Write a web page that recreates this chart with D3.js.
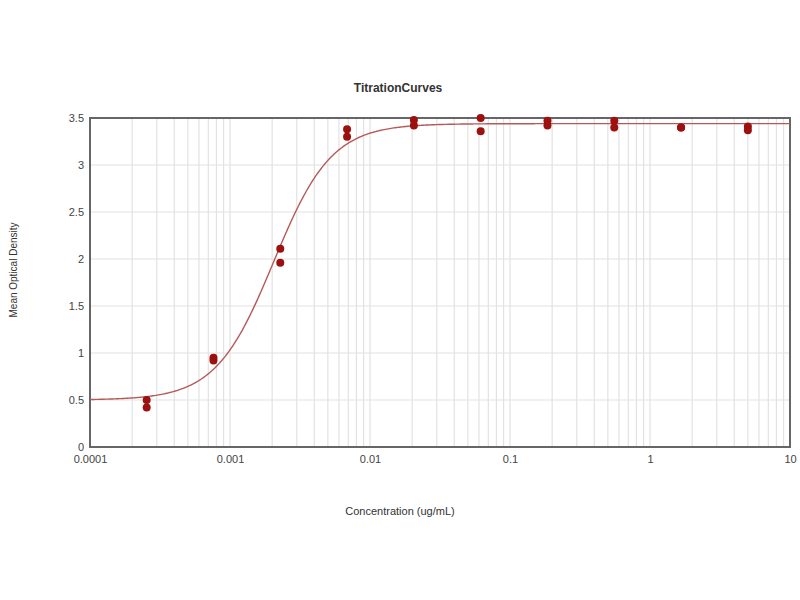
<!DOCTYPE html>
<html><head><meta charset="utf-8">
<script src="https://cdn.jsdelivr.net/npm/d3@7"></script>
<style>body{margin:0;background:#fff}svg{font-family:"Liberation Sans",Arial,sans-serif}</style>
</head><body><svg id="c" width="800" height="600"></svg>
<script>
const concentrations = [0.000254, 0.000762, 0.002286, 0.006859, 0.02058, 0.06173, 0.1852, 0.5556, 1.667, 5];
const replicate1 = [0.50, 0.95, 2.11, 3.38, 3.48, 3.50, 3.47, 3.47, 3.40, 3.41];
const replicate2 = [0.42, 0.92, 1.96, 3.30, 3.42, 3.36, 3.42, 3.40, 3.40, 3.37];
const yTicks = [0, 0.5, 1, 1.5, 2, 2.5, 3, 3.5];
const xTicks = [0.0001, 0.001, 0.01, 0.1, 1, 10];
const xTickLabels = ["0.0001", "0.001", "0.01", "0.1", "1", "10"];
// 4-parameter logistic fit
const fitBottom = 0.50, fitTop = 3.44, fitEC50 = 0.00205, fitHill = 2.1;

const svg = d3.select("#c");
const m = {l: 90, r: 790, t: 118, b: 447};
const x = d3.scaleLog().domain([0.0001, 10]).range([m.l, m.r]);
const y = d3.scaleLinear().domain([0, 3.5]).range([m.b, m.t]);

// minor vertical grid
const minor = [];
for (let e = -4; e < 1; e++) for (let k = 1; k <= 9; k++) minor.push(k * Math.pow(10, e));
svg.append("g").selectAll("line").data(minor).join("line")
  .attr("x1", d => x(d)).attr("x2", d => x(d)).attr("y1", m.t).attr("y2", m.b)
  .attr("stroke", "#e2e2e2").attr("stroke-width", 1.2);
svg.append("g").selectAll("line").data(yTicks).join("line")
  .attr("x1", m.l).attr("x2", m.r).attr("y1", d => y(d)).attr("y2", d => y(d))
  .attr("stroke", "#e2e2e2").attr("stroke-width", 1.2);

// frame
svg.append("rect").attr("x", m.l).attr("y", m.t).attr("width", m.r - m.l).attr("height", m.b - m.t)
  .attr("fill", "none").attr("stroke", "#666").attr("stroke-width", 2);

const ya = svg.append("g").attr("transform", `translate(${m.l},0)`)
  .call(d3.axisLeft(y).tickValues(yTicks).tickSize(0).tickPadding(6).tickFormat(d3.format("")));
ya.select(".domain").remove();
ya.selectAll("text").attr("font-size", 11).attr("fill", "#444").attr("font-family", "Liberation Sans, Arial, sans-serif");
const xa = svg.append("g").attr("transform", `translate(0,${m.b})`)
  .call(d3.axisBottom(x).tickValues(xTicks).tickSize(0).tickPadding(8).tickFormat((d, i) => xTickLabels[i]));
xa.select(".domain").remove();
xa.selectAll("text").attr("font-size", 11).attr("fill", "#444").attr("font-family", "Liberation Sans, Arial, sans-serif");

// fitted curve
const curveX = d3.range(0, 501).map(i => Math.pow(10, -4 + 5 * i / 500));
const fit = c => fitTop + (fitBottom - fitTop) / (1 + Math.pow(c / fitEC50, fitHill));
svg.append("path").datum(curveX)
  .attr("d", d3.line().x(d => x(d)).y(d => y(fit(d))))
  .attr("fill", "none").attr("stroke", "#b45a5a").attr("stroke-width", 1.4);

// points
const pts = [];
concentrations.forEach((c, i) => { pts.push([c, replicate1[i]]); pts.push([c, replicate2[i]]); });
svg.append("g").selectAll("circle").data(pts).join("circle")
  .attr("cx", d => x(d[0])).attr("cy", d => y(d[1])).attr("r", 4)
  .attr("fill", "#9c1010");

svg.append("text").attr("x", 398).attr("y", 92).attr("text-anchor", "middle")
  .attr("font-size", 12).attr("font-weight", "bold").attr("fill", "#333").text("TitrationCurves");
svg.append("text").attr("x", 400).attr("y", 515).attr("text-anchor", "middle")
  .attr("font-size", 11).attr("fill", "#333").text("Concentration (ug/mL)");
svg.append("text").attr("transform", "translate(17,270) rotate(-90)").attr("text-anchor", "middle")
  .attr("font-size", 10).attr("fill", "#333").text("Mean Optical Density");
</script></body></html>
